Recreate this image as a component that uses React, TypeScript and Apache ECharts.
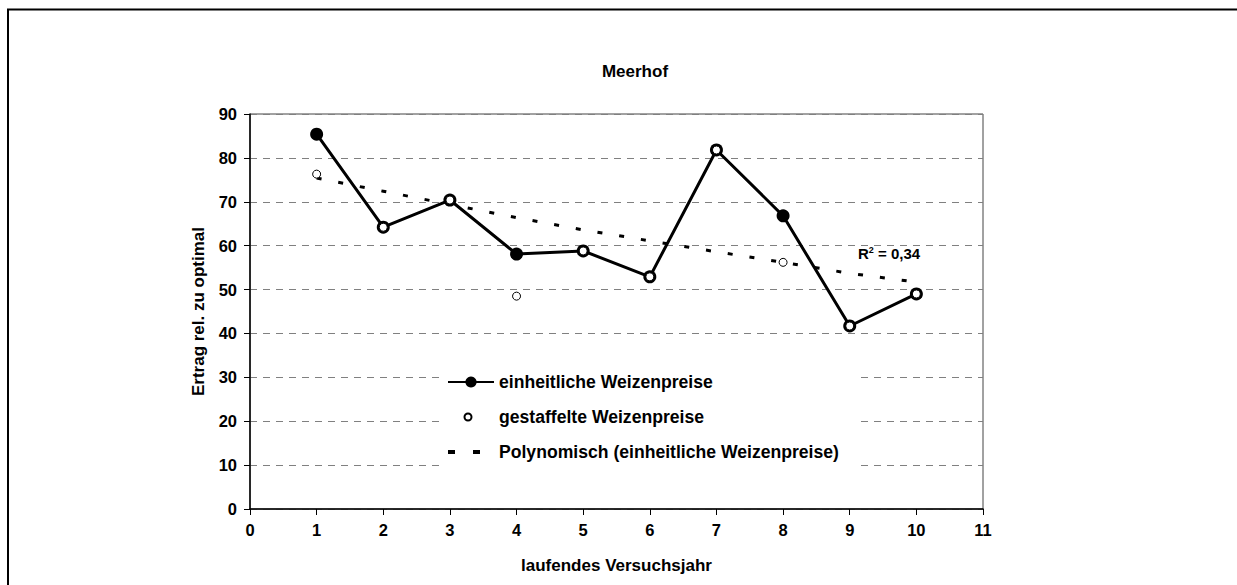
import React, { useEffect, useRef } from "react";
import * as echarts from "echarts";

const years = [1, 2, 3, 4, 5, 6, 7, 8, 9, 10];
const einheitlich = [85.4, 64.2, 70.4, 58.1, 58.8, 52.9, 81.8, 66.8, 41.7, 49.0];
const gestaffelt = [76.3, 64.2, 70.4, 48.5, 58.8, 52.9, 81.8, 56.2, 41.7, 49.0];
const trend = [75.4, 72.4, 69.4, 66.4, 63.6, 61.1, 58.6, 56.2, 53.7, 51.7];

const NAME_E = "einheitliche Weizenpreise";
const NAME_G = "gestaffelte Weizenpreise";
const NAME_P = "Polynomisch (einheitliche Weizenpreise)";

const FONT = "'Liberation Sans', Arial, Helvetica, sans-serif";

export default function App() {
  const ref = useRef<HTMLDivElement>(null);
  useEffect(() => {
    if (!ref.current) return;
    const chart = echarts.init(ref.current, null, { renderer: "svg" });
    const pairs = (vals: number[]) => years.map((x, i) => [x, vals[i]]);
    chart.setOption({
      animation: false,
      backgroundColor: "#ffffff",
      textStyle: { fontFamily: FONT, fontWeight: "bold", color: "#000" },
      title: {
        text: "Meerhof",
        left: 630,
        top: 58,
        textAlign: "center",
        textStyle: { fontFamily: FONT, fontWeight: "bold", fontSize: 17, color: "#000" },
      },
      grid: {
        left: 250,
        top: 114,
        width: 733,
        height: 395,
        show: true,
        borderColor: "#444",
        borderWidth: 1,
        backgroundColor: "transparent",
      },
      xAxis: {
        type: "value",
        min: 0,
        max: 11,
        interval: 1,
        name: "laufendes Versuchsjahr",
        nameLocation: "middle",
        nameGap: 48,
        nameTextStyle: { fontFamily: FONT, fontWeight: "bold", fontSize: 17, color: "#000" },
        axisLine: { show: true, onZero: false, lineStyle: { color: "#000", width: 1.5 } },
        axisTick: { show: true, inside: false, length: 6, lineStyle: { color: "#000", width: 1 } },
        axisLabel: { margin: 12, fontFamily: FONT, fontWeight: "bold", fontSize: 16.5, color: "#000" },
        splitLine: { show: false },
      },
      yAxis: {
        type: "value",
        min: 0,
        max: 90,
        interval: 10,
        name: "Ertrag rel. zu optimal",
        nameLocation: "middle",
        nameGap: 43,
        nameTextStyle: { fontFamily: FONT, fontWeight: "bold", fontSize: 17, color: "#000" },
        axisLine: { show: true, onZero: false, lineStyle: { color: "#000", width: 1.5 } },
        axisTick: { show: true, inside: false, length: 6, lineStyle: { color: "#000", width: 1 } },
        axisLabel: { margin: 13, fontFamily: FONT, fontWeight: "bold", fontSize: 16.5, color: "#000" },
        splitLine: { show: true, lineStyle: { color: "#808080", width: 1, type: [7, 6] } },
      },
      legend: {
        orient: "vertical",
        left: 439,
        top: 363,
        padding: [10, 20, 5, 8],
        backgroundColor: "#ffffff",
        itemWidth: 46,
        itemHeight: 14,
        itemGap: 17,
        textStyle: { fontFamily: FONT, fontWeight: "bold", fontSize: 17.6, color: "#000" },
        data: [
          { name: NAME_E },
          {
            name: NAME_G,
            icon: "path://M0,0M46,14M16.5,7a3.5,3.5 0 1,0 7,0a3.5,3.5 0 1,0 -7,0z",
          },
          {
            name: NAME_P,
            icon: "path://M0,0M46,14M0,5h7v4h-7zM25,5h7v4h-7z",
          },
        ],
      },
      graphic: [
        {
          type: "polyline",
          shape: { points: [[8, 600], [8, 9.5], [1250, 9.5]] },
          style: { fill: "none", stroke: "#000", lineWidth: 2 },
          silent: true,
          z: 100,
        },
        {
          type: "text",
          x: 858,
          y: 253,
          z: 100,
          style: {
            text: "{a|R}{s|2}{a| = 0,34}",
            verticalAlign: "middle",
            fill: "#000",
            rich: {
              a: { fontFamily: FONT, fontWeight: "bold", fontSize: 15, lineHeight: 16 },
              s: { fontFamily: FONT, fontWeight: "bold", fontSize: 9, lineHeight: 8, verticalAlign: "top" },
            },
          },
        },
      ],
      series: [
        {
          name: NAME_P,
          type: "line",
          data: pairs(trend),
          symbol: "none",
          z: 2,
          itemStyle: { color: "#000" },
          lineStyle: { color: "#000", width: 3, type: [5, 17] },
        },
        {
          name: NAME_E,
          type: "line",
          data: pairs(einheitlich),
          symbol: "circle",
          symbolSize: 13,
          z: 3,
          itemStyle: { color: "#000" },
          lineStyle: { color: "#000", width: 3 },
        },
        {
          name: NAME_G,
          type: "scatter",
          data: pairs(gestaffelt),
          symbol: "circle",
          symbolSize: 8,
          z: 4,
          itemStyle: { color: "#fff", borderColor: "#000", borderWidth: 1, opacity: 1 },
        },
      ],
    });
    return () => chart.dispose();
  }, []);
  return (
    <div
      ref={ref}
      style={{ position: "absolute", left: 0, top: 0, width: 1237, height: 585 }}
    />
  );
}
